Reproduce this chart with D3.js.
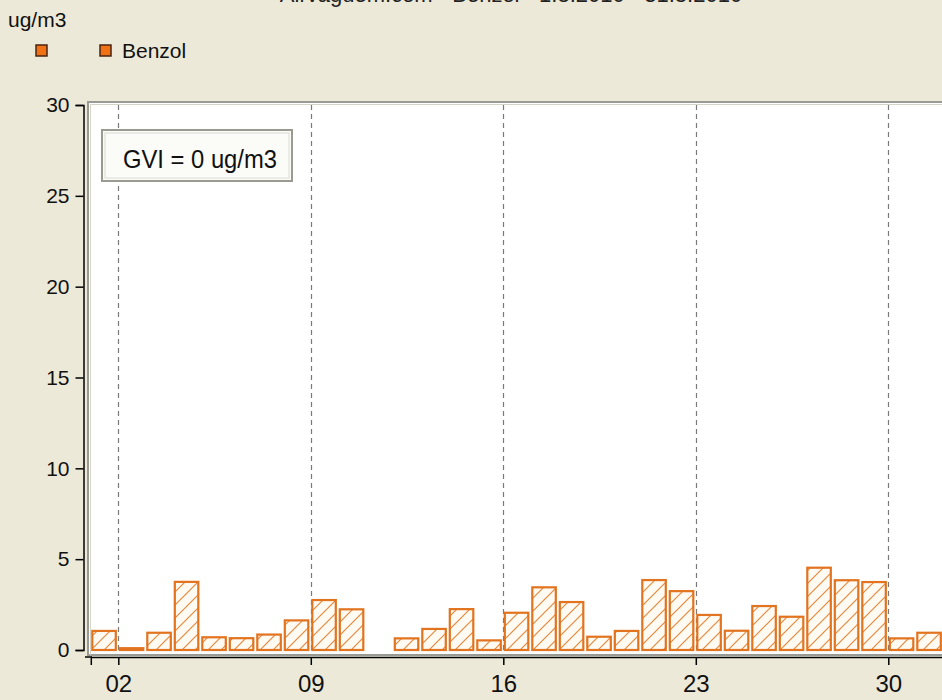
<!DOCTYPE html>
<html>
<head>
<meta charset="utf-8">
<script src="https://cdn.jsdelivr.net/npm/d3@7"></script>
<style>
  body { margin: 0; background: #ECE9D8; }
  svg { display: block; font-family: "Liberation Sans", Arial, sans-serif; }
</style>
</head>
<body>
<script>
// Data: daily benzene values (ug/m3), day 11 missing
var days = d3.range(1, 32);
var benzol = [1.05, 0.1, 0.95, 3.75, 0.7, 0.65, 0.85, 1.63, 2.75, 2.24,
              null, 0.64, 1.16, 2.25, 0.53, 2.05, 3.45, 2.64, 0.73, 1.05,
              3.85, 3.24, 1.93, 1.06, 2.42, 1.83, 4.53, 3.84, 3.74, 0.64, 0.95];
var xTicks = [2, 9, 16, 23, 30];
var yTicks = [0, 5, 10, 15, 20, 25, 30];
var seriesName = "Benzol";
var unit = "ug/m3";
var gvi = "GVI = 0 ug/m3";
var title = "Airvaguem.com - Benzol - 1.8.2010 - 31.8.2010";

// Width and height
var w = 942;
var h = 700;

// Scale functions
var xScale = d3.scaleLinear()
    .domain([1, 32])
    .range([90.8, 943.3]);

var yScale = d3.scaleLinear()
    .domain([0, 30])
    .range([650, 105]);

var svg = d3.select("body")
    .append("svg")
    .attr("width", w)
    .attr("height", h);

// Hatch pattern for bars
var defs = svg.append("defs");
var pat = defs.append("pattern")
    .attr("id", "hatch")
    .attr("patternUnits", "userSpaceOnUse")
    .attr("width", 13)
    .attr("height", 13);
pat.append("rect")
    .attr("width", 13)
    .attr("height", 13)
    .attr("fill", "#fffaf2");
pat.append("path")
    .attr("d", "M0,13 L13,0 M-4,4 L4,-4 M9,17 L17,9")
    .attr("stroke", "#e8893e")
    .attr("stroke-width", 1.2);

// Title (cut off at the top, as in the original)
svg.append("text")
    .attr("x", 511)
    .attr("y", 2)
    .attr("text-anchor", "middle")
    .style("font-size", "22px")
    .style("fill", "#222")
    .text(title);

// Unit label
svg.append("text")
    .attr("x", 8)
    .attr("y", 27)
    .style("font-size", "21px")
    .style("fill", "#111")
    .text(unit);

// Legend
svg.selectAll(".legsq")
    .data([36, 100])
    .enter().append("rect")
    .attr("class", "legsq")
    .attr("x", function(d) { return d; })
    .attr("y", 45)
    .attr("width", 11)
    .attr("height", 11)
    .attr("fill", "#f07214")
    .attr("stroke", "#4a2410")
    .attr("stroke-width", 1.5);

svg.append("text")
    .attr("x", 122)
    .attr("y", 58)
    .style("font-size", "21px")
    .style("fill", "#111")
    .text(seriesName);

// Plot area
svg.append("rect")
    .attr("x", 88)
    .attr("y", 102)
    .attr("width", w - 88 + 2)
    .attr("height", 553)
    .attr("fill", "#ffffff")
    .attr("stroke", "#9a9a94")
    .attr("stroke-width", 2);
svg.append("path")
    .attr("d", "M90.5,655 V104.5 H944")
    .attr("fill", "none")
    .attr("stroke", "#d6d3c8")
    .attr("stroke-width", 1);

// Dashed grid lines
svg.selectAll(".grid")
    .data(xTicks)
    .enter().append("line")
    .attr("class", "grid")
    .attr("x1", function(d) { return Math.round(xScale(d)) + 0.5; })
    .attr("x2", function(d) { return Math.round(xScale(d)) + 0.5; })
    .attr("y1", yScale(30))
    .attr("y2", yScale(0))
    .attr("stroke", "#7a7a7a")
    .attr("stroke-width", 1.2)
    .attr("stroke-dasharray", "5,4");

// Bars
var barData = days.map(function(d, i) { return {day: d, value: benzol[i]}; })
    .filter(function(d) { return d.value != null; });

svg.selectAll(".bar")
    .data(barData)
    .enter().append("rect")
    .attr("class", "bar")
    .attr("x", function(d) { return xScale(d.day) + 1.5; })
    .attr("width", function(d) { return xScale(d.day + 1) - xScale(d.day) - 4; })
    .attr("y", function(d) { return yScale(d.value); })
    .attr("height", function(d) { return yScale(0) - yScale(d.value); })
    .attr("fill", "url(#hatch)")
    .attr("stroke", "#e2731f")
    .attr("stroke-width", 2.2);

// GVI box
svg.append("rect")
    .attr("x", 102)
    .attr("y", 130)
    .attr("width", 190)
    .attr("height", 51)
    .attr("fill", "#fbfbf7")
    .attr("stroke", "#9a9a90")
    .attr("stroke-width", 2);
svg.append("rect")
    .attr("x", 105)
    .attr("y", 133)
    .attr("width", 184)
    .attr("height", 45)
    .attr("fill", "none")
    .attr("stroke", "#dcdcd4")
    .attr("stroke-width", 1);
svg.append("text")
    .attr("x", 123)
    .attr("y", 168)
    .attr("textLength", 154)
    .attr("lengthAdjust", "spacingAndGlyphs")
    .style("font-size", "26px")
    .style("fill", "#111")
    .text(gvi);

// Y axis
var yAxis = d3.axisLeft()
    .scale(yScale)
    .tickValues(yTicks)
    .tickSize(8)
    .tickSizeOuter(8)
    .tickPadding(6);

svg.append("g")
    .attr("class", "axis")
    .attr("transform", "translate(83.5,0)")
    .call(yAxis)
    .call(function(g) {
        g.selectAll("path, line").attr("stroke", "#000").attr("stroke-width", 1.5);
        g.selectAll("text").style("font-size", "21px").style("fill", "#111")
            .attr("font-family", "Liberation Sans, Arial, sans-serif");
    });

// X axis
var xAxis = d3.axisBottom()
    .scale(xScale)
    .tickValues(xTicks)
    .tickSize(8)
    .tickSizeOuter(8)
    .tickPadding(10)
    .tickFormat(d3.format("02d"));

svg.append("line")
    .attr("x1", 85)
    .attr("x2", 92)
    .attr("y1", 657)
    .attr("y2", 657)
    .attr("stroke", "#000")
    .attr("stroke-width", 1.5);

svg.append("g")
    .attr("class", "axis")
    .attr("transform", "translate(0,657)")
    .call(xAxis)
    .call(function(g) {
        g.selectAll("path, line").attr("stroke", "#000").attr("stroke-width", 1.5);
        g.selectAll("text").style("font-size", "24px").style("fill", "#111")
            .attr("font-family", "Liberation Sans, Arial, sans-serif");
    });
</script>
</body>
</html>
